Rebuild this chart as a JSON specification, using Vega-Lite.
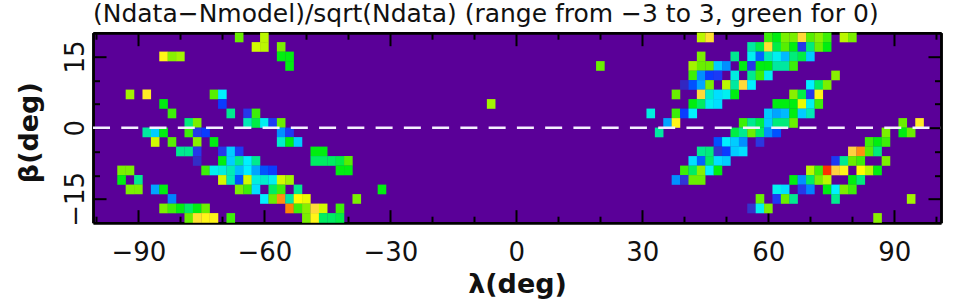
{"$schema":"https://vega.github.io/schema/vega-lite/v6.json","width":848,"height":190,"autosize":{"type":"none"},"padding":{"left":93,"top":32.7,"right":13,"bottom":81},"background":"white","view":{"fill":"#5a0098","stroke":null},"title":{"text":"(Ndata−Nmodel)/sqrt(Ndata) (range from −3 to 3, green for 0)","font":"DejaVu Sans","fontSize":25,"fontWeight":"normal","color":"#111111","anchor":"start","frame":"group","offset":5,"dx":0},"datasets":{"dash":[{"lambda":0,"beta":0}],"cells":[
{"lambda":-66,"beta":19,"value":0.3},{"lambda":-60,"beta":19,"value":0.7},
{"lambda":-62,"beta":17,"value":0.8},{"lambda":-60,"beta":17,"value":0.7},{"lambda":-56,"beta":17,"value":0.4},
{"lambda":-84,"beta":15,"value":1.1},{"lambda":-82,"beta":15,"value":0.5},{"lambda":-80,"beta":15,"value":0.6},{"lambda":-56,"beta":15,"value":0},{"lambda":-54,"beta":15,"value":0},
{"lambda":-54,"beta":13,"value":0},
{"lambda":-92,"beta":7,"value":0.6},{"lambda":-88,"beta":7,"value":1.2},{"lambda":-72,"beta":7,"value":0.2},{"lambda":-70,"beta":7,"value":-1},
{"lambda":-84,"beta":5,"value":0},{"lambda":-70,"beta":5,"value":-2},
{"lambda":-82,"beta":3,"value":0.1},{"lambda":-68,"beta":3,"value":-0.4},{"lambda":-64,"beta":3,"value":-2.2},{"lambda":-62,"beta":3,"value":0.1},
{"lambda":-78,"beta":1,"value":-0.3},{"lambda":-76,"beta":1,"value":0.4},{"lambda":-64,"beta":1,"value":-0.6},{"lambda":-62,"beta":1,"value":-0.1},{"lambda":-60,"beta":1,"value":-0.9},{"lambda":-58,"beta":1,"value":-2.1},{"lambda":-56,"beta":1,"value":0.3},
{"lambda":-88,"beta":-1,"value":-0.5},{"lambda":-86,"beta":-1,"value":-1.2},{"lambda":-84,"beta":-1,"value":0},{"lambda":-78,"beta":-1,"value":0.1},{"lambda":-76,"beta":-1,"value":-2.2},{"lambda":-74,"beta":-1,"value":-2},{"lambda":-56,"beta":-1,"value":-1.5},{"lambda":-54,"beta":-1,"value":-2.1},
{"lambda":-86,"beta":-3,"value":0.8},{"lambda":-82,"beta":-3,"value":0.2},{"lambda":-76,"beta":-3,"value":0.5},{"lambda":-72,"beta":-3,"value":0},{"lambda":-56,"beta":-3,"value":-0.7},{"lambda":-54,"beta":-3,"value":0},{"lambda":-52,"beta":-3,"value":-1.2},
{"lambda":-80,"beta":-5,"value":-0.4},{"lambda":-78,"beta":-5,"value":-0.4},{"lambda":-76,"beta":-5,"value":-2.2},{"lambda":-70,"beta":-5,"value":-2.2},{"lambda":-68,"beta":-5,"value":-1.2},{"lambda":-66,"beta":-5,"value":-2.1},{"lambda":-48,"beta":-5,"value":0},{"lambda":-46,"beta":-5,"value":0},
{"lambda":-76,"beta":-7,"value":-2.6},{"lambda":-70,"beta":-7,"value":0},{"lambda":-68,"beta":-7,"value":-1.2},{"lambda":-66,"beta":-7,"value":-0.4},{"lambda":-64,"beta":-7,"value":-1},{"lambda":-62,"beta":-7,"value":-0.4},{"lambda":-48,"beta":-7,"value":-0.2},{"lambda":-46,"beta":-7,"value":-0.2},{"lambda":-44,"beta":-7,"value":-0.2},{"lambda":-42,"beta":-7,"value":-0.1},{"lambda":-40,"beta":-7,"value":0.2},
{"lambda":-94,"beta":-9,"value":0.4},{"lambda":-92,"beta":-9,"value":0.4},{"lambda":-74,"beta":-9,"value":0.1},{"lambda":-72,"beta":-9,"value":-0.9},{"lambda":-70,"beta":-9,"value":-0.8},{"lambda":-68,"beta":-9,"value":-0.6},{"lambda":-66,"beta":-9,"value":-1.3},{"lambda":-64,"beta":-9,"value":-1},{"lambda":-62,"beta":-9,"value":-1.4},{"lambda":-60,"beta":-9,"value":-1.9},{"lambda":-58,"beta":-9,"value":-2},{"lambda":-42,"beta":-9,"value":0},{"lambda":-40,"beta":-9,"value":0},
{"lambda":-94,"beta":-11,"value":0},{"lambda":-90,"beta":-11,"value":-0.4},{"lambda":-70,"beta":-11,"value":0.8},{"lambda":-68,"beta":-11,"value":-0.6},{"lambda":-66,"beta":-11,"value":-1.9},{"lambda":-64,"beta":-11,"value":0.8},{"lambda":-62,"beta":-11,"value":-0.8},{"lambda":-60,"beta":-11,"value":-0.7},{"lambda":-58,"beta":-11,"value":-0.9},{"lambda":-56,"beta":-11,"value":0.8},{"lambda":-54,"beta":-11,"value":0.6},
{"lambda":-92,"beta":-13,"value":0.4},{"lambda":-90,"beta":-13,"value":0.4},{"lambda":-86,"beta":-13,"value":-1.4},{"lambda":-84,"beta":-13,"value":0},{"lambda":-66,"beta":-13,"value":0.4},{"lambda":-64,"beta":-13,"value":0.1},{"lambda":-62,"beta":-13,"value":-1.1},{"lambda":-58,"beta":-13,"value":-0.2},{"lambda":-56,"beta":-13,"value":0.1},{"lambda":-52,"beta":-13,"value":-0.4},{"lambda":-32,"beta":-13,"value":0},
{"lambda":-82,"beta":-15,"value":-1.6},{"lambda":-60,"beta":-15,"value":-1},{"lambda":-58,"beta":-15,"value":0.3},{"lambda":-56,"beta":-15,"value":2},{"lambda":-54,"beta":-15,"value":-0.5},{"lambda":-52,"beta":-15,"value":1},{"lambda":-50,"beta":-15,"value":0.9},{"lambda":-38,"beta":-15,"value":0.4},
{"lambda":-84,"beta":-17,"value":0.4},{"lambda":-82,"beta":-17,"value":0.1},{"lambda":-80,"beta":-17,"value":0},{"lambda":-78,"beta":-17,"value":-0.2},{"lambda":-76,"beta":-17,"value":0},{"lambda":-74,"beta":-17,"value":0.3},{"lambda":-54,"beta":-17,"value":2.1},{"lambda":-52,"beta":-17,"value":0.1},{"lambda":-50,"beta":-17,"value":0.5},{"lambda":-48,"beta":-17,"value":1.4},{"lambda":-46,"beta":-17,"value":0.8},{"lambda":-42,"beta":-17,"value":0.1},
{"lambda":-78,"beta":-19,"value":0.3},{"lambda":-76,"beta":-19,"value":1.3},{"lambda":-74,"beta":-19,"value":1.1},{"lambda":-72,"beta":-19,"value":1.1},{"lambda":-68,"beta":-19,"value":0.1},{"lambda":-50,"beta":-19,"value":0.4},{"lambda":-48,"beta":-19,"value":1.1},{"lambda":-46,"beta":-19,"value":-0.2},{"lambda":-44,"beta":-19,"value":-0.2},{"lambda":-42,"beta":-19,"value":-0.1},
{"lambda":-6,"beta":5,"value":0.6},{"lambda":20,"beta":13,"value":0.3},
{"lambda":44,"beta":19,"value":0.7},{"lambda":46,"beta":19,"value":1.3},{"lambda":60,"beta":19,"value":0.1},{"lambda":62,"beta":19,"value":0},{"lambda":64,"beta":19,"value":0.4},{"lambda":66,"beta":19,"value":0.4},{"lambda":68,"beta":19,"value":1.4},{"lambda":70,"beta":19,"value":0.2},{"lambda":72,"beta":19,"value":0.5},{"lambda":74,"beta":19,"value":0.1},{"lambda":78,"beta":19,"value":0.7},{"lambda":80,"beta":19,"value":0.4},
{"lambda":56,"beta":17,"value":-0.5},{"lambda":58,"beta":17,"value":-0.1},{"lambda":60,"beta":17,"value":1.3},{"lambda":62,"beta":17,"value":-0.1},{"lambda":64,"beta":17,"value":0.2},{"lambda":66,"beta":17,"value":0},{"lambda":68,"beta":17,"value":-2.2},{"lambda":70,"beta":17,"value":-0.3},{"lambda":72,"beta":17,"value":0.3},{"lambda":74,"beta":17,"value":0},
{"lambda":44,"beta":15,"value":0.4},{"lambda":52,"beta":15,"value":-0.4},{"lambda":56,"beta":15,"value":-0.9},{"lambda":58,"beta":15,"value":-1.8},{"lambda":60,"beta":15,"value":-0.6},{"lambda":62,"beta":15,"value":-0.9},{"lambda":64,"beta":15,"value":-1.3},{"lambda":66,"beta":15,"value":-0.3},{"lambda":68,"beta":15,"value":-0.1},{"lambda":70,"beta":15,"value":-1.2},
{"lambda":42,"beta":13,"value":0.6},{"lambda":44,"beta":13,"value":0.3},{"lambda":46,"beta":13,"value":0.3},{"lambda":48,"beta":13,"value":-1.2},{"lambda":50,"beta":13,"value":-1.5},{"lambda":54,"beta":13,"value":0},{"lambda":56,"beta":13,"value":-2.2},{"lambda":58,"beta":13,"value":0},{"lambda":60,"beta":13,"value":0},{"lambda":62,"beta":13,"value":-0.5},{"lambda":64,"beta":13,"value":-0.5},{"lambda":66,"beta":13,"value":0.1},
{"lambda":42,"beta":11,"value":0.1},{"lambda":44,"beta":11,"value":-1.5},{"lambda":46,"beta":11,"value":-2},{"lambda":48,"beta":11,"value":-2.1},{"lambda":52,"beta":11,"value":-0.8},{"lambda":56,"beta":11,"value":-0.4},{"lambda":58,"beta":11,"value":0.1},{"lambda":60,"beta":11,"value":-0.9},{"lambda":76,"beta":11,"value":0.5},
{"lambda":40,"beta":9,"value":-2.7},{"lambda":42,"beta":9,"value":-1.9},{"lambda":44,"beta":9,"value":-1.4},{"lambda":46,"beta":9,"value":0.4},{"lambda":50,"beta":9,"value":0.7},{"lambda":52,"beta":9,"value":-0.5},{"lambda":54,"beta":9,"value":1.4},{"lambda":56,"beta":9,"value":-1},{"lambda":70,"beta":9,"value":-1},{"lambda":72,"beta":9,"value":-0.2},{"lambda":74,"beta":9,"value":0.4},
{"lambda":38,"beta":7,"value":0.3},{"lambda":44,"beta":7,"value":1.4},{"lambda":46,"beta":7,"value":-0.7},{"lambda":48,"beta":7,"value":-1.1},{"lambda":50,"beta":7,"value":-0.9},{"lambda":52,"beta":7,"value":0},{"lambda":66,"beta":7,"value":0.5},{"lambda":68,"beta":7,"value":-0.1},{"lambda":70,"beta":7,"value":-2.2},{"lambda":72,"beta":7,"value":1.1},
{"lambda":42,"beta":5,"value":0},{"lambda":44,"beta":5,"value":-0.2},{"lambda":46,"beta":5,"value":-0.9},{"lambda":48,"beta":5,"value":-1.1},{"lambda":62,"beta":5,"value":0},{"lambda":64,"beta":5,"value":0},{"lambda":66,"beta":5,"value":0},{"lambda":68,"beta":5,"value":0.9},{"lambda":70,"beta":5,"value":-0.9},{"lambda":72,"beta":5,"value":0.1},
{"lambda":32,"beta":3,"value":-0.8},{"lambda":38,"beta":3,"value":0.1},{"lambda":40,"beta":3,"value":-2},{"lambda":42,"beta":3,"value":-1},{"lambda":60,"beta":3,"value":-1.2},{"lambda":62,"beta":3,"value":-1.4},{"lambda":64,"beta":3,"value":-1.3},{"lambda":66,"beta":3,"value":0},{"lambda":68,"beta":3,"value":-1.2},{"lambda":70,"beta":3,"value":-0.6},
{"lambda":36,"beta":1,"value":-1.4},{"lambda":38,"beta":1,"value":1.1},{"lambda":54,"beta":1,"value":0.1},{"lambda":56,"beta":1,"value":-0.4},{"lambda":58,"beta":1,"value":-0.1},{"lambda":60,"beta":1,"value":-1.2},{"lambda":62,"beta":1,"value":-0.3},{"lambda":64,"beta":1,"value":-0.3},{"lambda":66,"beta":1,"value":0.3},{"lambda":92,"beta":1,"value":0.3},{"lambda":96,"beta":1,"value":1.2},
{"lambda":34,"beta":-1,"value":-0.5},{"lambda":52,"beta":-1,"value":-0.1},{"lambda":54,"beta":-1,"value":-0.4},{"lambda":56,"beta":-1,"value":0.3},{"lambda":58,"beta":-1,"value":-0.2},{"lambda":60,"beta":-1,"value":-1.5},{"lambda":62,"beta":-1,"value":-1.9},{"lambda":88,"beta":-1,"value":0.4},{"lambda":92,"beta":-1,"value":0},{"lambda":94,"beta":-1,"value":0.3},
{"lambda":48,"beta":-3,"value":-1.9},{"lambda":50,"beta":-3,"value":-1},{"lambda":52,"beta":-3,"value":-1.2},{"lambda":54,"beta":-3,"value":-1.5},{"lambda":58,"beta":-3,"value":-2.3},{"lambda":84,"beta":-3,"value":0.1},{"lambda":86,"beta":-3,"value":0},{"lambda":88,"beta":-3,"value":0.1},
{"lambda":44,"beta":-5,"value":-0.4},{"lambda":46,"beta":-5,"value":-0.3},{"lambda":48,"beta":-5,"value":-2.5},{"lambda":50,"beta":-5,"value":-2},{"lambda":52,"beta":-5,"value":-1.2},{"lambda":54,"beta":-5,"value":-1.1},{"lambda":80,"beta":-5,"value":1.5},{"lambda":82,"beta":-5,"value":2},{"lambda":84,"beta":-5,"value":0.2},{"lambda":86,"beta":-5,"value":-0.3},
{"lambda":42,"beta":-7,"value":-1.1},{"lambda":44,"beta":-7,"value":-1.8},{"lambda":46,"beta":-7,"value":-0.2},{"lambda":48,"beta":-7,"value":-1.1},{"lambda":50,"beta":-7,"value":-1.2},{"lambda":76,"beta":-7,"value":-2.1},{"lambda":78,"beta":-7,"value":-0.4},{"lambda":80,"beta":-7,"value":0.3},{"lambda":82,"beta":-7,"value":0.1},{"lambda":88,"beta":-7,"value":0.4},
{"lambda":40,"beta":-9,"value":0.1},{"lambda":42,"beta":-9,"value":-0.2},{"lambda":44,"beta":-9,"value":0.5},{"lambda":46,"beta":-9,"value":-1},{"lambda":48,"beta":-9,"value":0},{"lambda":70,"beta":-9,"value":0.7},{"lambda":72,"beta":-9,"value":0.1},{"lambda":74,"beta":-9,"value":2.6},{"lambda":76,"beta":-9,"value":1.5},{"lambda":78,"beta":-9,"value":1.1},{"lambda":82,"beta":-9,"value":1},{"lambda":84,"beta":-9,"value":0.7},{"lambda":86,"beta":-9,"value":0},
{"lambda":38,"beta":-11,"value":-1.5},{"lambda":40,"beta":-11,"value":-2.4},{"lambda":42,"beta":-11,"value":0.3},{"lambda":44,"beta":-11,"value":0.3},{"lambda":66,"beta":-11,"value":0},{"lambda":68,"beta":-11,"value":-1.5},{"lambda":70,"beta":-11,"value":-0.2},{"lambda":72,"beta":-11,"value":0.4},{"lambda":74,"beta":-11,"value":0.7},{"lambda":80,"beta":-11,"value":0},{"lambda":82,"beta":-11,"value":-0.3},
{"lambda":62,"beta":-13,"value":-0.9},{"lambda":64,"beta":-13,"value":-1.1},{"lambda":68,"beta":-13,"value":-2.2},{"lambda":70,"beta":-13,"value":-1.6},{"lambda":74,"beta":-13,"value":0},{"lambda":76,"beta":-13,"value":-1},{"lambda":78,"beta":-13,"value":0.4},{"lambda":80,"beta":-13,"value":0.1},
{"lambda":58,"beta":-15,"value":0.3},{"lambda":62,"beta":-15,"value":-2.1},{"lambda":64,"beta":-15,"value":0.3},{"lambda":66,"beta":-15,"value":-0.4},{"lambda":76,"beta":-15,"value":-0.4},{"lambda":94,"beta":-15,"value":0.6},
{"lambda":56,"beta":-17,"value":-2.5},{"lambda":58,"beta":-17,"value":-0.9},{"lambda":60,"beta":-17,"value":0.4},
{"lambda":86,"beta":-19,"value":0.5}
]},
"encoding":{"x":{"field":"lambda","type":"quantitative","scale":{"domain":[-100.8,101.1],"nice":false,"zero":false}},"y":{"field":"beta","type":"quantitative","scale":{"domain":[-20,20],"nice":false,"zero":false}}},
"resolve":{"axis":{"x":"independent","y":"independent"}},
"config":{"axis":{"grid":false,"domainColor":"#000000","domainWidth":2.5,"tickColor":"#000000","tickWidth":2,"zindex":1,"labelFont":"DejaVu Sans","labelFontSize":26,"labelColor":"#111111","titleFont":"DejaVu Sans","titleFontSize":27,"titleFontWeight":"bold","titleColor":"#111111"}},
"layer":[
{"data":{"name":"cells"},"mark":{"type":"rect","width":8.6,"height":9.7},"encoding":{
"x":{"field":"lambda","type":"quantitative","axis":{"orient":"bottom","values":[-90,-60,-30,0,30,60,90],"format":"d","title":"λ(deg)","tickSize":-13,"labelPadding":30,"titlePadding":6,"labelFlush":false}},
"y":{"field":"beta","type":"quantitative","axis":{"orient":"left","values":[-15,0,15],"format":"d","title":"β(deg)","tickSize":-13,"labelAngle":-90,"labelAlign":"center","labelBaseline":"bottom","labelPadding":18,"titlePadding":19,"titleY":99.5,"labelFlush":false}},
"color":{"field":"value","type":"quantitative","legend":null,"scale":{"domain":[-3,-2.5,-2,-1.5,-1,-0.5,0,0.5,1,1.5,2,2.6,3],"range":["#3010b0","#3333cc","#0a3cff","#0090ff","#00f0ff","#00e8a0","#00ee10","#88f000","#ffff00","#ffd040","#ff9010","#ff3000","#ff0000"]}}}},
{"data":{"name":"dash"},"mark":{"type":"rule","color":"#f4f0ff","strokeWidth":2.6,"strokeDash":[17,11.26]},"encoding":{"x":{"value":0},"x2":{"value":848},"y":{"field":"beta","type":"quantitative","axis":null}}},
{"data":{"name":"dash"},"mark":{"type":"point","opacity":0},"encoding":{"x":{"field":"lambda","type":"quantitative","axis":{"orient":"bottom","values":[-100,-80,-70,-50,-40,-20,-10,10,20,40,50,70,80,100],"labels":false,"title":null,"tickSize":-6.5}},"y":{"field":"beta","type":"quantitative","axis":{"orient":"left","values":[-10,-5,5,10],"labels":false,"title":null,"tickSize":-6.5}}}},
{"data":{"name":"dash"},"mark":{"type":"point","opacity":0},"encoding":{"x":{"field":"lambda","type":"quantitative","axis":{"orient":"top","values":[-90,-60,-30,0,30,60,90],"labels":false,"title":null,"tickSize":-13}},"y":{"field":"beta","type":"quantitative","axis":{"orient":"right","values":[-15,0,15],"labels":false,"title":null,"tickSize":-13}}}},
{"data":{"name":"dash"},"mark":{"type":"point","opacity":0},"encoding":{"x":{"field":"lambda","type":"quantitative","axis":{"orient":"top","values":[-100,-80,-70,-50,-40,-20,-10,10,20,40,50,70,80,100],"labels":false,"title":null,"tickSize":-6.5}},"y":{"field":"beta","type":"quantitative","axis":{"orient":"right","values":[-10,-5,5,10],"labels":false,"title":null,"tickSize":-6.5}}}}
]}
